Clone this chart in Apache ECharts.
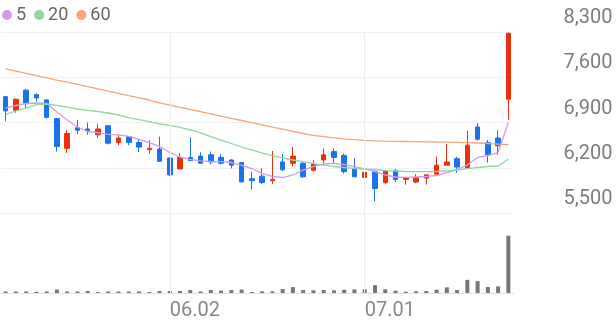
<!DOCTYPE html>
<html>
<head>
<meta charset="utf-8">
<script src="https://cdn.jsdelivr.net/npm/echarts@6/dist/echarts.min.js"></script>
<style>html,body{margin:0;padding:0;background:#fff;}#c{width:616px;height:321px;}</style>
</head>
<body>
<div id="c"></div>
<script>
var dates = ['05.09','05.12','05.13','05.14','05.15','05.16','05.19','05.20','05.21','05.22',
  '05.23','05.26','05.27','05.28','05.29','05.30','06.02','06.04','06.05','06.09',
  '06.10','06.11','06.12','06.13','06.16','06.17','06.18','06.19','06.20','06.23',
  '06.24','06.25','06.26','06.27','06.30','07.01','07.02','07.03','07.04','07.07',
  '07.08','07.09','07.10','07.11','07.14','07.15','07.16','07.17','07.18','07.21'];
var opens  = [7300,7090,7400,7330,7250,6960,6500,6820,6800,6710,6850,6590,6680,6590,6480,6490,6350,6180,6360,6380,
  6400,6360,6320,6280,6030,6070,6000,6290,6270,6270,6160,6320,6450,6390,6190,6050,6140,5970,6160,6020,
  5980,6040,6100,6240,6340,6190,6830,6590,6660,7260];
var closes = [7080,7260,7200,7280,6980,6530,6730,6780,6770,6800,6580,6660,6590,6520,6500,6300,6090,6360,6310,6270,
  6290,6270,6240,5980,6000,5970,6020,6170,6380,6060,6260,6400,6360,6140,6060,6130,5880,6150,6020,6040,
  6050,6090,6240,6290,6210,6550,6640,6400,6540,8280];
var lows   = [6920,7050,7110,7220,6960,6450,6430,6720,6710,6660,6560,6550,6550,6440,6420,6290,6070,6180,6310,6260,
  6250,6250,6190,5980,5860,5950,5950,6150,6220,6040,6140,6240,6270,6110,6060,6040,5680,5950,5980,5940,
  5960,5940,6100,6240,6120,6180,6620,6280,6400,6940];
var highs  = [7310,7270,7420,7350,7260,6970,6780,6940,6900,6880,6860,6710,6690,6640,6630,6680,6360,6430,6670,6440,
  6450,6410,6330,6290,6140,6190,6460,6410,6520,6290,6320,6500,6500,6420,6350,6180,6170,6170,6180,6040,
  6100,6090,6370,6570,6370,6770,6890,6630,6780,8290];
var ma5  = [7124,7163,7194,7202,7197,7062,6939,6830,6761,6742,6717,6707,6686,6640,6587,6529,6436,6366,6331,6307,
  6297,6294,6281,6235,6188,6114,6065,6049,6088,6165,6216,6258,6269,6250,6219,6181,6139,6088,6057,6052,
  6057,6065,6080,6126,6173,6242,6359,6389,6436,6900];
var ma20 = [7024,7078,7124,7178,7186,7163,7140,7109,7086,7070,7047,7016,6977,6946,6915,6877,6854,6823,6784,6738,
  6683,6629,6575,6521,6475,6428,6389,6351,6320,6294,6266,6242,6219,6204,6188,6181,6173,6157,6150,6142,
  6139,6139,6142,6150,6165,6188,6204,6219,6227,6335];
var ma60 = [7728,7694,7660,7626,7592,7557,7523,7489,7454,7420,7386,7352,7316,7282,7248,7202,7169,7135,7101,7067,
  7033,6999,6965,6931,6897,6864,6830,6796,6762,6730,6702,6680,6662,6646,6634,6625,6617,6612,6609,6606,
  6603,6600,6598,6597,6594,6589,6583,6575,6567,6557];
var volumes = [15000,15000,15000,12000,15000,35000,15000,15000,20000,8000,15000,15000,15000,15000,10000,20000,20000,20000,30000,15000,
  30000,25000,30000,35000,10000,17000,17000,40000,60000,30000,27000,30000,27000,33000,37000,37000,80000,37000,23000,13000,
  17000,20000,33000,57000,30000,133000,120000,60000,67000,580000];
var yTicks = [5500, 6200, 6900, 7600, 8300];
var xLabelDates = ['06.02', '07.01'];
var maNames = ['5', '20', '60'];

var candleData = opens.map(function (o, i) { return [o, closes[i], lows[i], highs[i]]; });
var UP = '#e8320d', DOWN = '#1a73e8';
var vline = {
  silent: true, symbol: ['none', 'none'], animation: false,
  label: { show: false },
  lineStyle: { color: '#ececec', type: 'solid', width: 1 },
  data: xLabelDates.map(function (d) { return { xAxis: d }; })
};

var chart = echarts.init(document.getElementById('c'), null, { renderer: 'canvas' });
chart.setOption({
  animation: false,
  textStyle: { fontFamily: 'Roboto, sans-serif' },
  legend: {
    left: 2, top: 6, padding: 0, icon: 'circle', itemWidth: 10, itemHeight: 10, itemGap: 8,
    textStyle: { fontSize: 18, color: '#666', fontFamily: 'Roboto', padding: [0, 0, 0, -1] },
    data: maNames
  },
  grid: [
    { left: 0.5, right: 102.5, top: 32, height: 181 },
    { left: 0.5, right: 102.5, top: 214, height: 80 }
  ],
  xAxis: [
    { type: 'category', gridIndex: 0, data: dates, boundaryGap: true,
      axisLine: { show: false }, axisTick: { show: false }, axisLabel: { show: false }, splitLine: { show: false } },
    { type: 'category', gridIndex: 1, data: dates, boundaryGap: true,
      axisLine: { show: true, lineStyle: { color: '#e3e3e3' } }, axisTick: { show: false },
      splitLine: { show: false },
      axisLabel: {
        interval: function (idx, val) { return xLabelDates.indexOf(val) >= 0; },
        align: 'left', margin: 8, fontSize: 20, color: '#888', fontFamily: 'Roboto'
      } }
  ],
  yAxis: [
    { type: 'value', gridIndex: 0, position: 'right', min: yTicks[0], max: yTicks[yTicks.length - 1], interval: 700,
      axisLine: { show: false }, axisTick: { show: false },
      splitLine: { show: true, lineStyle: { color: '#f0f0f0' } },
      axisLabel: {
        align: 'right', margin: 99, verticalAlign: 'bottom', padding: [0, 0, 4, 0],
        fontSize: 20, color: '#7d7d7d', fontFamily: 'Roboto',
        formatter: function (v) { return v.toLocaleString('en-US'); }
      } },
    { type: 'value', gridIndex: 1, min: 0, max: 800000,
      axisLine: { show: false }, axisTick: { show: false }, axisLabel: { show: false }, splitLine: { show: false } }
  ],
  series: [
    { type: 'candlestick', name: 'price', xAxisIndex: 0, yAxisIndex: 0, data: candleData, barWidth: 5,
      itemStyle: { color: UP, color0: DOWN, borderColor: UP, borderColor0: DOWN, borderWidth: 1 },
      markLine: vline },
    { type: 'line', name: maNames[0], data: ma5, color: '#d39af0', showSymbol: false, symbol: 'none',
      lineStyle: { width: 1.3, color: '#d39af0' }, z: 3 },
    { type: 'line', name: maNames[1], data: ma20, color: '#8fd8a2', showSymbol: false, symbol: 'none',
      lineStyle: { width: 1.3, color: '#8fd8a2' }, z: 3 },
    { type: 'line', name: maNames[2], data: ma60, color: '#f8a47c', showSymbol: false, symbol: 'none',
      lineStyle: { width: 1.3, color: '#f8a47c' }, z: 3 },
    { type: 'bar', name: 'volume', xAxisIndex: 1, yAxisIndex: 1, data: volumes, barWidth: 4,
      itemStyle: { color: '#777' }, markLine: vline }
  ]
});
</script>
</body>
</html>
